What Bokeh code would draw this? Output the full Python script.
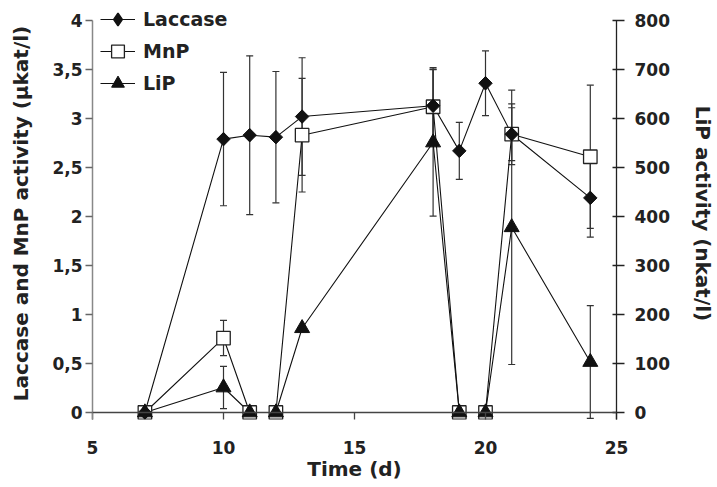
import numpy as np
from bokeh.plotting import figure
from bokeh.models import (Range1d, LinearAxis, FixedTicker, Whisker, TeeHead,
                          ColumnDataSource, Span, Legend, LegendItem, CustomJSTickFormatter)
from bokeh.embed import file_html
from bokeh.resources import INLINE

# ---- data ----
days = [7, 10, 11, 12, 13, 18, 19, 20, 21, 24]
laccase = [0.0, 2.79, 2.83, 2.81, 3.02, 3.13, 2.67, 3.36, 2.84, 2.19]
laccase_err = [0.0, 0.68, 0.81, 0.67, 0.60, 0.39, 0.29, 0.33, 0.31, 0.40]
mnp = [0.0, 0.76, 0.0, 0.0, 2.83, 3.12, 0.0, 0.0, 2.84, 2.61]
mnp_err = [0.0, 0.18, 0.0, 0.0, 0.58, 0.38, 0.0, 0.0, 0.27, 0.73]
lip = [0.0, 51, 0.0, 0.0, 172, 551, 0.0, 0.0, 378, 103]
lip_err = [0.0, 43, 0.0, 0.0, 0.0, 150, 0.0, 0.0, 280, 115]

x_ticks = [5, 10, 15, 20, 25]
left_ticks = [0, 0.5, 1, 1.5, 2, 2.5, 3, 3.5, 4]
right_ticks = [0, 100, 200, 300, 400, 500, 600, 700, 800]

FONT = "DejaVu Sans"
pad_lo = 0.0714
pad_hi = 0.133
lip_scale = 200.0

p = figure(width=717, height=487, x_range=Range1d(5, 25), y_range=Range1d(-pad_lo, 4 + pad_hi),
           output_backend="svg", toolbar_location=None,
           min_border_left=92, min_border_right=99, min_border_top=7, min_border_bottom=68)
p.extra_y_ranges = {"lip": Range1d(-pad_lo * lip_scale, (4 + pad_hi) * lip_scale)}
p.xgrid.visible = False
p.ygrid.visible = False
p.outline_line_color = None
p.background_fill_color = "white"
p.border_fill_color = "white"

# bottom axis
xa = p.xaxis[0]
xa.ticker = FixedTicker(ticks=x_ticks)
xa.axis_line_color = None
xa.major_tick_in = 7
xa.major_tick_out = 0
xa.major_tick_line_color = "#444444"
xa.major_tick_line_width = 1.3
xa.minor_tick_line_color = None
xa.major_label_text_font = FONT
xa.major_label_text_font_style = "bold"
xa.major_label_text_font_size = "17px"
xa.major_label_text_color = "#222222"
xa.major_label_standoff = 21
xa.axis_label = "Time (d)"
xa.axis_label_text_font = FONT
xa.axis_label_text_font_style = "bold"
xa.axis_label_text_font_size = "20px"
xa.axis_label_text_color = "#222222"
xa.axis_label_standoff = 0

# left axis
ya = p.yaxis[0]
ya.ticker = FixedTicker(ticks=left_ticks)
ya.bounds = (-pad_lo, 4)
ya.formatter = CustomJSTickFormatter(code="return tick.toString().replace('.', ',');")
ya.axis_line_color = "#888888"
ya.axis_line_width = 1.5
ya.major_tick_in = 0
ya.major_tick_out = 7
ya.major_tick_line_color = "#666666"
ya.major_tick_line_width = 1.3
ya.minor_tick_line_color = None
ya.major_label_text_font = FONT
ya.major_label_text_font_style = "bold"
ya.major_label_text_font_size = "17px"
ya.major_label_text_color = "#222222"
ya.major_label_standoff = 3
ya.axis_label = "Laccase and MnP activity (µkat/l)"
ya.axis_label_text_font = FONT
ya.axis_label_text_font_style = "bold"
ya.axis_label_text_font_size = "20px"
ya.axis_label_text_color = "#222222"
ya.axis_label_standoff = 16

# right axis
ra = LinearAxis(y_range_name="lip", ticker=FixedTicker(ticks=right_ticks))
ra.bounds = (-pad_lo * lip_scale, 800)
ra.axis_line_color = "#222222"
ra.axis_line_width = 1.3
ra.major_tick_in = 4
ra.major_tick_out = 8
ra.major_tick_line_color = "#222222"
ra.major_tick_line_width = 1.3
ra.minor_tick_line_color = None
ra.major_label_text_font = FONT
ra.major_label_text_font_style = "bold"
ra.major_label_text_font_size = "17px"
ra.major_label_text_color = "#222222"
ra.major_label_standoff = 10
ra.axis_label = "LiP activity (nkat/l)"
ra.axis_label_text_font = FONT
ra.axis_label_text_font_style = "bold"
ra.axis_label_text_font_size = "20px"
ra.axis_label_text_color = "#222222"
ra.axis_label_standoff = 18
p.add_layout(ra, "right")

# x axis line at y = 0
p.add_layout(Span(location=0, dimension="width", line_color="#444444", line_width=1.5))


def add_whiskers(vals, errs, range_name):
    xs = [d for d, e in zip(days, errs) if e > 0]
    lo = [v - e for v, e in zip(vals, errs) if e > 0]
    hi = [v + e for v, e in zip(vals, errs) if e > 0]
    src = ColumnDataSource(dict(x=xs, lower=lo, upper=hi))
    w = Whisker(base="x", lower="lower", upper="upper", source=src, dimension="height",
                line_color="#333333", line_width=1.2, level="underlay",
                upper_head=TeeHead(size=7, line_color="#333333", line_width=1.2),
                lower_head=TeeHead(size=7, line_color="#333333", line_width=1.2))
    if range_name:
        w.y_range_name = range_name
    p.add_layout(w)


add_whiskers(laccase, laccase_err, None)
add_whiskers(mnp, mnp_err, None)
add_whiskers(lip, lip_err, "lip")

lac_line = p.line(days, laccase, line_color="#111111", line_width=1.1)
mnp_line = p.line(days, mnp, line_color="#111111", line_width=1.1)
lip_line = p.line(days, lip, line_color="#111111", line_width=1.1, y_range_name="lip")

mnp_pts = p.scatter(days, mnp, marker="square", size=13.5, fill_color="white",
                    line_color="#222222", line_width=1.3)
lip_pts = p.scatter(days, lip, marker="triangle", size=15, fill_color="#111111",
                    line_color="#111111", y_range_name="lip")
# diamond used for the legend swatch; it sits inside the rotated squares drawn on top
lac_key = p.scatter(days, laccase, marker="diamond", size=12, fill_color="#111111",
                    line_color="#111111", line_width=1.5)
lac_pts = p.scatter(days, laccase, marker="square", angle=np.pi / 4, size=9.5,
                    fill_color="#111111", line_color="#111111")

legend = Legend(items=[LegendItem(label="Laccase", renderers=[lac_line, lac_key]),
                       LegendItem(label="MnP", renderers=[mnp_line, mnp_pts]),
                       LegendItem(label="LiP", renderers=[lip_line, lip_pts])],
                location=(8, 320), border_line_color=None, background_fill_alpha=0,
                padding=0, margin=0, spacing=-2, glyph_width=35, glyph_height=32,
                label_height=20, label_standoff=8,
                label_text_font=FONT, label_text_font_style="bold",
                label_text_font_size="19px", label_text_color="#222222")
p.add_layout(legend)

open("out.html", "w").write(file_html(p, INLINE))
